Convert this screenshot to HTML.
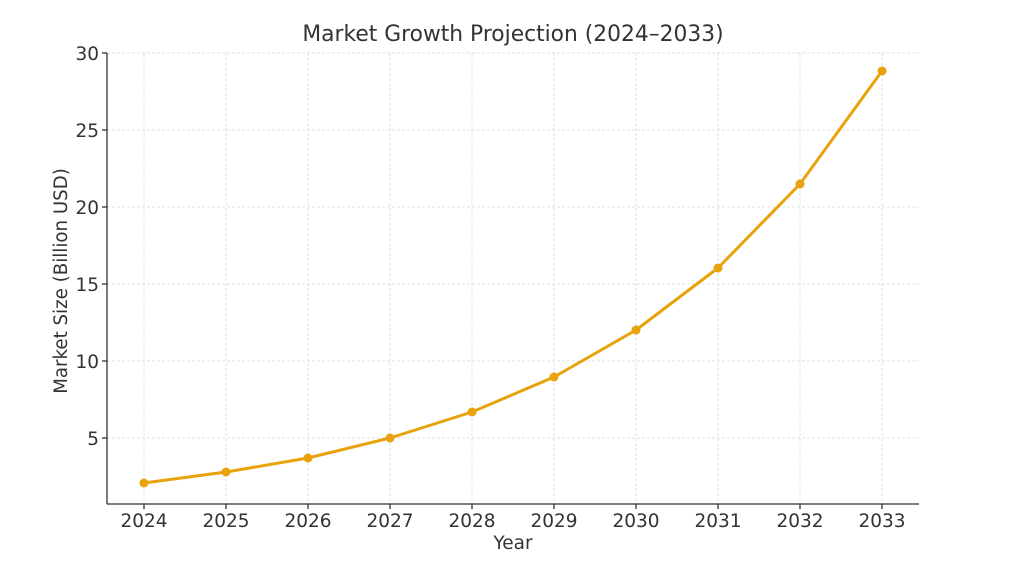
<!DOCTYPE html>
<html><head><meta charset="utf-8"><style>html,body{margin:0;padding:0;background:#fff}</style></head><body>
<svg width="1024" height="579" xmlns="http://www.w3.org/2000/svg" font-family="DejaVu Sans, Liberation Sans, sans-serif" fill="#333">
<g stroke="#d9d9d9" stroke-width="0.8" stroke-dasharray="3,2">
<line x1="107" y1="53" x2="919" y2="53"/><line x1="107" y1="130" x2="919" y2="130"/><line x1="107" y1="207" x2="919" y2="207"/><line x1="107" y1="284" x2="919" y2="284"/><line x1="107" y1="361" x2="919" y2="361"/><line x1="107" y1="438" x2="919" y2="438"/>
<line x1="144" y1="53" x2="144" y2="504"/><line x1="226" y1="53" x2="226" y2="504"/><line x1="308" y1="53" x2="308" y2="504"/><line x1="390" y1="53" x2="390" y2="504"/><line x1="472" y1="53" x2="472" y2="504"/><line x1="554" y1="53" x2="554" y2="504"/><line x1="636" y1="53" x2="636" y2="504"/><line x1="718" y1="53" x2="718" y2="504"/><line x1="800" y1="53" x2="800" y2="504"/><line x1="882" y1="53" x2="882" y2="504"/>
</g>
<g stroke="#333" stroke-width="1.3">
<line x1="107" y1="53" x2="107" y2="504"/><line x1="107" y1="504" x2="919" y2="504"/>
<line x1="102" y1="53" x2="107" y2="53"/><line x1="102" y1="130" x2="107" y2="130"/><line x1="102" y1="207" x2="107" y2="207"/><line x1="102" y1="284" x2="107" y2="284"/><line x1="102" y1="361" x2="107" y2="361"/><line x1="102" y1="438" x2="107" y2="438"/>
<line x1="144" y1="504" x2="144" y2="509"/><line x1="226" y1="504" x2="226" y2="509"/><line x1="308" y1="504" x2="308" y2="509"/><line x1="390" y1="504" x2="390" y2="509"/><line x1="472" y1="504" x2="472" y2="509"/><line x1="554" y1="504" x2="554" y2="509"/><line x1="636" y1="504" x2="636" y2="509"/><line x1="718" y1="504" x2="718" y2="509"/><line x1="800" y1="504" x2="800" y2="509"/><line x1="882" y1="504" x2="882" y2="509"/>
</g>
<g font-size="18.5" text-anchor="end">
<text x="99" y="60">30</text><text x="99" y="137">25</text><text x="99" y="214">20</text><text x="99" y="291">15</text><text x="99" y="368">10</text><text x="99" y="445">5</text>
</g>
<g font-size="18.5" text-anchor="middle">
<text x="144" y="527">2024</text><text x="226" y="527">2025</text><text x="308" y="527">2026</text><text x="390" y="527">2027</text><text x="472" y="527">2028</text><text x="554" y="527">2029</text><text x="636" y="527">2030</text><text x="718" y="527">2031</text><text x="800" y="527">2032</text><text x="882" y="527">2033</text>
<text x="513" y="549">Year</text>
<text x="513" y="41" font-size="21.8">Market Growth Projection (2024–2033)</text>
<text transform="translate(67,281) rotate(-90)" font-size="18.2">Market Size (Billion USD)</text>
</g>
<polyline fill="none" stroke="#E8A20C" stroke-width="3" stroke-linejoin="round" points="144,483 226,472 308,458 390,438 472,412 554,377 636,330 718,268 800,184 882,71"/>
<g fill="#E8A20C">
<circle cx="144" cy="483" r="4.5"/><circle cx="226" cy="472" r="4.5"/><circle cx="308" cy="458" r="4.5"/><circle cx="390" cy="438" r="4.5"/><circle cx="472" cy="412" r="4.5"/><circle cx="554" cy="377" r="4.5"/><circle cx="636" cy="330" r="4.5"/><circle cx="718" cy="268" r="4.5"/><circle cx="800" cy="184" r="4.5"/><circle cx="882" cy="71" r="4.5"/>
</g>
</svg>
</body></html>
